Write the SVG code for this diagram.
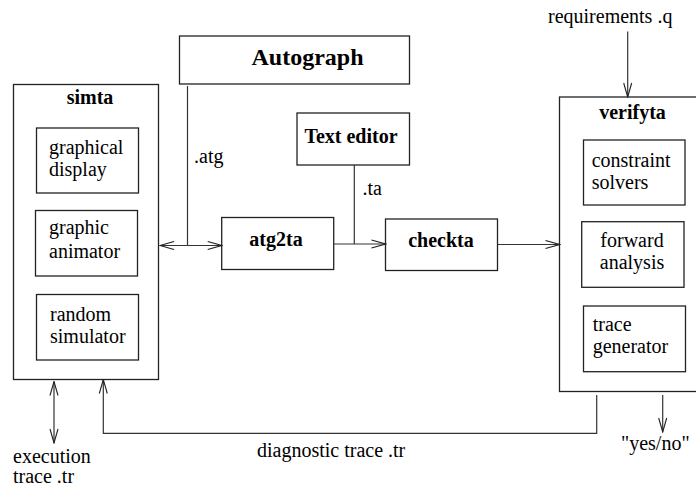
<svg xmlns="http://www.w3.org/2000/svg" width="696" height="490" viewBox="0 0 696 490">
<style>
.box{fill:#fff;stroke:#222;stroke-width:1.3}
.ln{fill:none;stroke:#333;stroke-width:1.2}
text{font-family:"Liberation Serif","Times New Roman",serif;font-size:20px;fill:#000}
.b{font-weight:bold;text-anchor:middle}
.m{text-anchor:middle}
</style>
<defs>
<marker id="ah" viewBox="0 0 16 10" refX="15" refY="5" markerWidth="16" markerHeight="10" markerUnits="userSpaceOnUse" orient="auto-start-reverse">
<path d="M1,1 L15,5 L1,9" fill="none" stroke="#222" stroke-width="1.1"/>
</marker>
</defs>
<g id="autograph"><rect class="box" x="179.5" y="36" width="230" height="48"/><text class="b" x="307.5" y="65" style="font-size:24px">Autograph</text></g>
<g id="simta"><rect class="box" x="13.5" y="84.5" width="145" height="295"/><text class="b" x="90" y="104">simta</text>
<g id="graphical-display"><rect class="box" x="36.5" y="128" width="102" height="65"/><text x="49" y="154">graphical</text><text x="49" y="176">display</text></g>
<g id="graphic-animator"><rect class="box" x="35.5" y="210.5" width="102" height="65.5"/><text x="49" y="234">graphic</text><text x="49" y="258">animator</text></g>
<g id="random-simulator"><rect class="box" x="36.5" y="294.5" width="102" height="65.5"/><text x="50" y="320.5">random</text><text x="50" y="342.5">simulator</text></g>
</g>
<g id="text-editor"><rect class="box" x="297" y="113" width="112.5" height="52"/><text class="b" x="351" y="143">Text editor</text></g>
<g id="atg2ta"><rect class="box" x="221.7" y="217.5" width="112" height="52"/><text class="b" x="276" y="246">atg2ta</text></g>
<g id="checkta"><rect class="box" x="385.5" y="219" width="112" height="51.5"/><text class="b" x="441" y="246.5">checkta</text></g>
<g id="verifyta"><rect class="box" x="559.5" y="97" width="150" height="294.5"/><text class="b" x="632.5" y="119">verifyta</text>
<g id="constraint-solvers"><rect class="box" x="583.5" y="140" width="101.5" height="65"/><text x="591.7" y="166.5">constraint</text><text x="591.7" y="188.5">solvers</text></g>
<g id="forward-analysis"><rect class="box" x="581.7" y="221.7" width="102.3" height="65.6"/><text class="m" x="632" y="246.5">forward</text><text class="m" x="632" y="269">analysis</text></g>
<g id="trace-generator"><rect class="box" x="583.5" y="306" width="102" height="65.7"/><text x="592.7" y="330.5">trace</text><text x="592.7" y="352.5">generator</text></g>
</g>
<g id="connectors">
<path class="ln" d="M187.5,86 V245.5"/>
<path class="ln" d="M160,245.5 H221.7" marker-start="url(#ah)" marker-end="url(#ah)"/>
<path class="ln" d="M354.3,165 V244"/>
<path class="ln" d="M333.7,244 H385.5" marker-end="url(#ah)"/>
<path class="ln" d="M497.5,244.5 H559.5" marker-end="url(#ah)"/>
<path class="ln" d="M627.7,31.5 V97" marker-end="url(#ah)"/>
<path class="ln" d="M596.7,395 V433.3 H103.3 V379.5" marker-end="url(#ah)"/>
<path class="ln" d="M662.7,395 V432" marker-end="url(#ah)"/>
<path class="ln" d="M54,381.5 V443" marker-start="url(#ah)" marker-end="url(#ah)"/>
</g>
<g id="labels">
<text x="194" y="163">.atg</text>
<text x="362.5" y="195">.ta</text>
<text x="548" y="22.7">requirements .q</text>
<text x="621" y="450">"yes/no"</text>
<text x="257" y="457.3">diagnostic trace .tr</text>
<text x="13" y="463.3">execution</text>
<text x="13" y="483.3">trace .tr</text>
</g>
</svg>
